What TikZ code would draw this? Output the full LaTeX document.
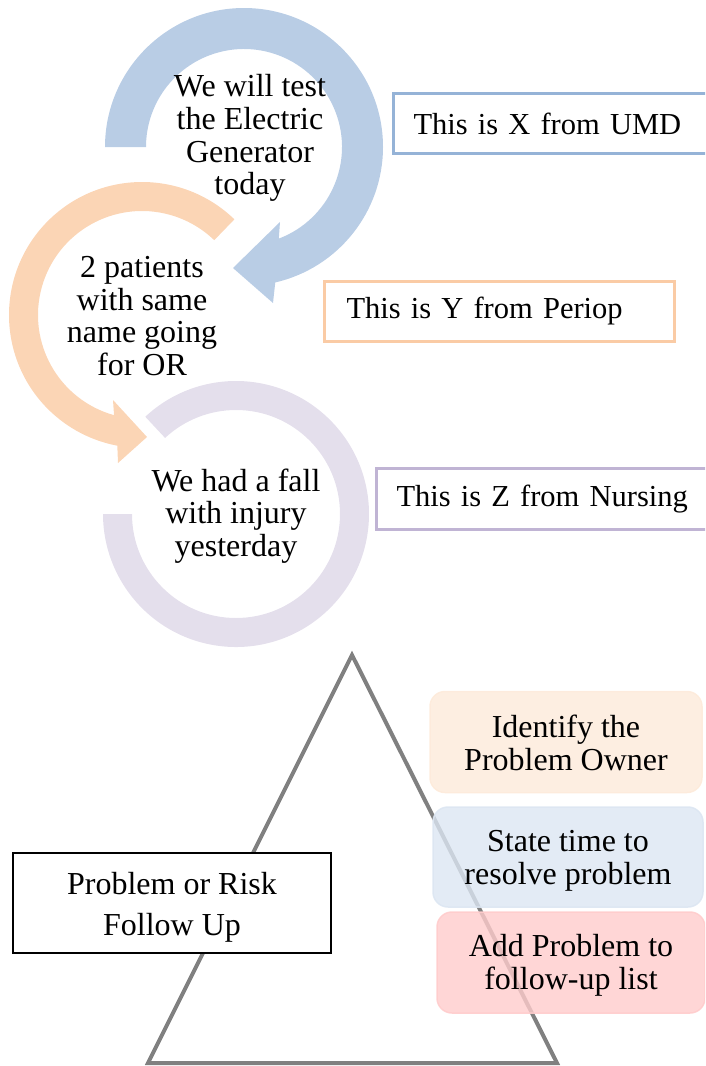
\documentclass[tikz,border=0pt]{standalone}
\usepackage{fontspec}
\setmainfont{Liberation Serif}
\begin{document}
\definecolor{ringblue}{RGB}{185,205,229}
\definecolor{ringorange}{RGB}{251,213,181}
\definecolor{ringpurple}{RGB}{228,223,236}
\definecolor{lineblue}{RGB}{149,179,215}
\definecolor{lineorange}{RGB}{250,203,165}
\definecolor{linepurple}{RGB}{192,180,212}
\definecolor{fillorange}{RGB}{253,234,218}
\definecolor{fillblue}{RGB}{220,230,242}
\definecolor{fillred}{RGB}{255,204,204}
\definecolor{trigray}{RGB}{128,128,128}
\begin{tikzpicture}[x=1pt,y=1pt,yscale=-1,
  txt/.style={inner sep=0pt,align=center,font=\fontsize{32}{32.7}\selectfont},
  infobox/.style={draw=#1,line width=3pt,fill=white,anchor=north west,
    align=left,inner ysep=0pt,font=\fontsize{30.5}{32.5}\selectfont},
  stepbox/.style={fill=#1,draw=#1,line width=1.5pt,fill opacity=0.8,draw opacity=0.9,
    rounded corners=15pt,inner sep=0pt},
  tri/.style={draw=trigray,line width=4pt,line join=miter}]
\useasboundingbox (0,0) rectangle (705,1066);
\clip (0,0) rectangle (705,1066);

% purple ring (open at upper left)
\fill[ringpurple,shift={(236,514)}]
  (227:133) arc[start angle=227,end angle=540,radius=133]
  -- (180:104) arc[start angle=540,end angle=227,radius=104] -- cycle;

% orange circular arrow
\fill[ringorange,shift={(142,315)}]
  (314:133) arc[start angle=314,end angle=100.7,radius=133]
  -- (-24,148) -- (5,122) -- (-29,85)
  -- (105.6:104) arc[start angle=105.6,end angle=314,radius=104] -- cycle;

% blue circular arrow
\fill[ringblue,shift={(244,147)}]
  (180:139) arc[start angle=180,end angle=437,radius=139]
  -- (29,156) -- (-11,121) -- (36,75)
  -- (429.2:98) arc[start angle=429.2,end angle=180,radius=98] -- cycle;

% ring captions
\node[txt] (r1) at (250,138) {We will test\\the Electric\\Generator\\today};
\node[txt] (r2) at (142,316) {2 patients\\with same\\name going\\for OR};
\node[txt] (r3) at (236,516) {We had a fall\\with injury\\yesterday};

% speaker boxes
\node[infobox=lineblue,minimum width=333pt,minimum height=60pt,
  inner xsep=20pt,text width=293pt] (bx) at (392,92) {This is X from UMD};
\node[infobox=lineorange,minimum width=350pt,minimum height=60pt,
  inner xsep=22pt,text width=306pt] (by) at (323,280) {This is Y from Periop};
\node[infobox=linepurple,minimum width=350pt,minimum height=61pt,
  inner xsep=20pt,text width=310pt] (bz) at (375,467) {This is Z from Nursing};

% follow-up pyramid
\coordinate (apex) at (352,655);
\coordinate (bl) at (148,1063);
\coordinate (br) at (557,1063);
\draw[tri] (apex) -- (br) -- (bl) -- cycle;

\node[draw=black,line width=1.5pt,fill=white,minimum width=318pt,minimum height=100pt,
  inner sep=0pt] (fu) at (172,903) {};
\node[inner sep=0pt,align=center,font=\fontsize{32}{41}\selectfont]
  (fut) at ([yshift=4pt]fu.center) {Problem or Risk\\Follow Up};

% action steps (translucent so the pyramid edge shows through)
\node[stepbox=fillorange,minimum width=272pt,minimum height=101pt] (s1) at (566,742) {};
\node[stepbox=fillblue,minimum width=270pt,minimum height=100pt] (s2) at (568,857) {};
\node[stepbox=fillred,minimum width=268pt,minimum height=101pt] (s3) at (571,962.5) {};
\node[txt] (s1t) at ([yshift=1pt]s1.center) {Identify the\\Problem Owner};
\node[txt] (s2t) at ([yshift=4pt]s2.center) {State time to\\resolve problem};
\node[txt] (s3t) at ([yshift=3pt]s3.center) {Add Problem to\\follow-up list};
\end{tikzpicture}
\end{document}
